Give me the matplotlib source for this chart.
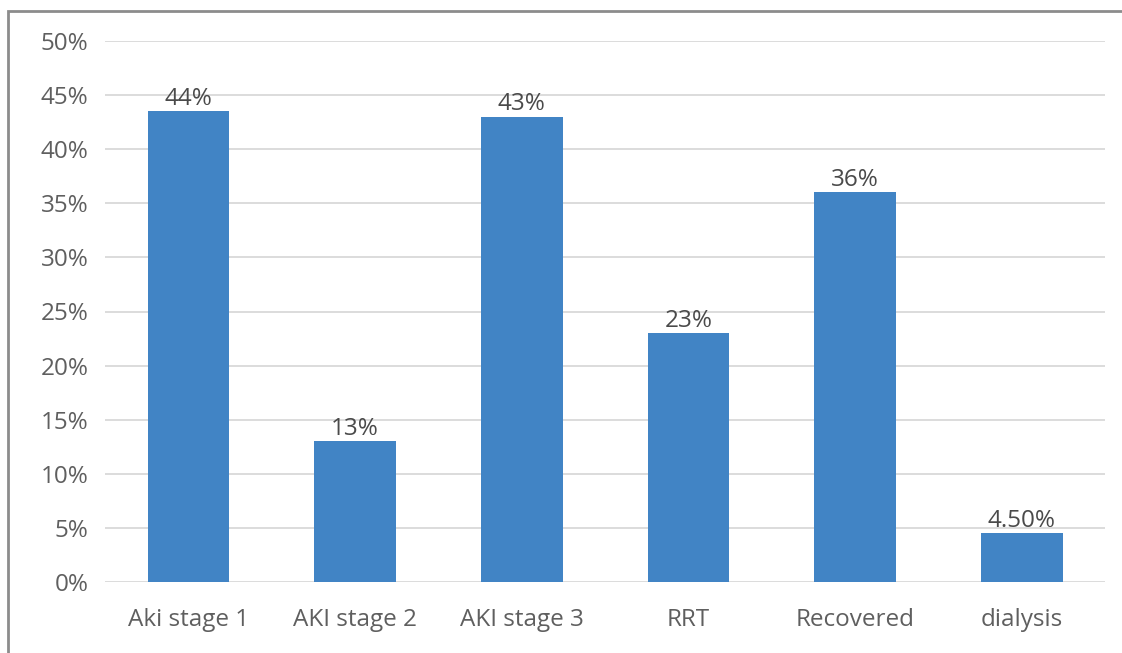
import matplotlib
matplotlib.use("Agg")
import matplotlib.pyplot as plt
from matplotlib.patches import Rectangle
from matplotlib.ticker import PercentFormatter

# --------------------------------------------------------------------------
# Data
# --------------------------------------------------------------------------
categories = ["Aki stage 1", "AKI stage 2", "AKI stage 3", "RRT", "Recovered", "dialysis"]
values = [43.5, 13.0, 43.0, 23.0, 36.0, 4.5]
value_labels = ["44%", "13%", "43%", "23%", "36%", "4.50%"]
y_ticks = [0, 5, 10, 15, 20, 25, 30, 35, 40, 45, 50]

plt.rcParams["font.family"] = ["Open Sans", "DejaVu Sans"]

W, H = 1122, 653
fig = plt.figure(figsize=(W / 100, H / 100), dpi=100)
fig.patch.set_facecolor("white")

# partial outer frame (cropped on right and bottom)
fig.patches.append(Rectangle((8 / W, -0.05), 1.2, 1 - 11 / H + 0.05,
                             transform=fig.transFigure, fill=False,
                             edgecolor="#8c8c8c", linewidth=2.0))

ax = fig.add_axes([105 / W, 1 - 582 / H, 1000 / W, (582 - 41) / H])
x = range(len(categories))
ax.bar(x, values, width=0.49, color="#4184c5", zorder=3)

for xi, v, lab in zip(x, values, value_labels):
    ax.text(xi, v + 0.05, lab, ha="center", va="bottom", fontsize=17.5,
            color="#4a4a4a", zorder=4)

ax.set_xlim(-0.5, len(categories) - 0.5)
ax.set_ylim(0, 50)
ax.set_yticks(y_ticks)
ax.yaxis.set_major_formatter(PercentFormatter(decimals=0))
ax.set_xticks(list(x))
ax.set_xticklabels(categories)
ax.tick_params(axis="both", length=0, labelsize=17.5, colors="#5f5f5f")
ax.tick_params(axis="y", pad=12)
ax.tick_params(axis="x", pad=19)
ax.grid(axis="y", color="#d9d9d9", linewidth=1.3, zorder=0)
for s in ax.spines.values():
    s.set_visible(False)

fig.savefig("out.png", dpi=100)
